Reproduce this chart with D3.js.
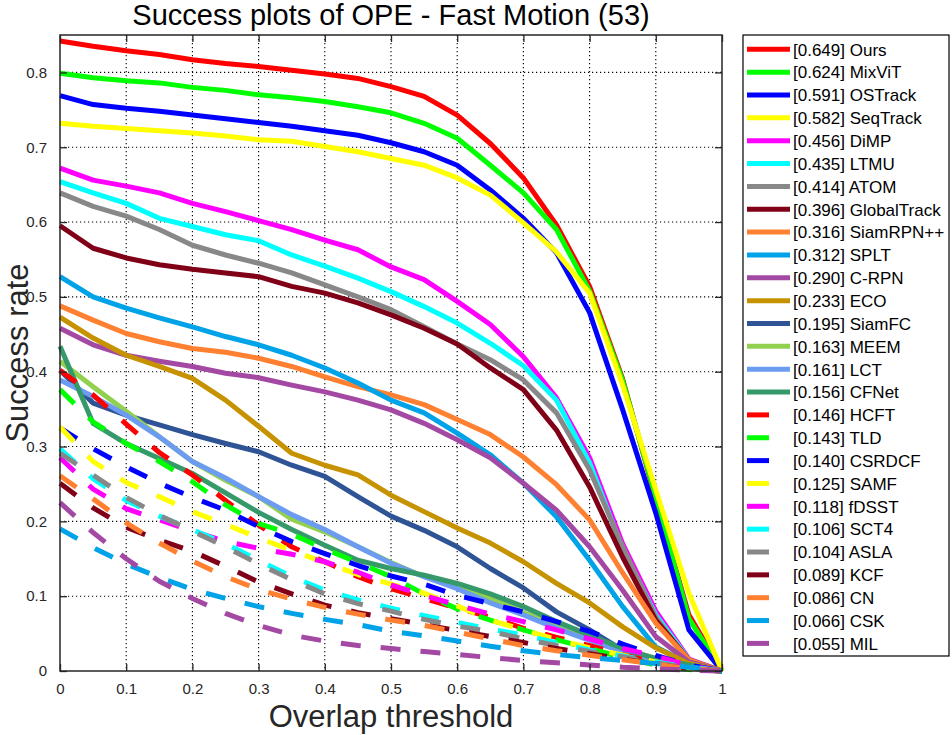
<!DOCTYPE html>
<html>
<head>
<meta charset="utf-8">
<script src="https://cdn.jsdelivr.net/npm/d3@7"></script>
<style>
  body { margin: 0; background: #fff; }
  text { font-family: "Liberation Sans", Arial, Helvetica, sans-serif; }
</style>
</head>
<body>
<div id="chart"></div>
<script>
// Overlap thresholds (x axis)
var thresholds = [0,0.05,0.1,0.15,0.2,0.25,0.3,0.35,0.4,0.45,0.5,0.55,0.6,0.65,0.7,0.75,0.8,0.85,0.9,0.95,1];
var xTicks = [0,0.1,0.2,0.3,0.4,0.5,0.6,0.7,0.8,0.9,1];
var yTicks = [0,0.1,0.2,0.3,0.4,0.5,0.6,0.7,0.8];

// Tracker names and AUC scores, in legend order
var trackers = ['Ours','MixViT','OSTrack','SeqTrack','DiMP','LTMU','ATOM','GlobalTrack','SiamRPN++','SPLT','C-RPN','ECO','SiamFC','MEEM','LCT','CFNet','HCFT','TLD','CSRDCF','SAMF','fDSST','SCT4','ASLA','KCF','CN','CSK','MIL'];
var aucs = [0.649,0.624,0.591,0.582,0.456,0.435,0.414,0.396,0.316,0.312,0.290,0.233,0.195,0.163,0.161,0.156,0.146,0.143,0.140,0.125,0.118,0.106,0.104,0.089,0.086,0.066,0.055];

// Success rate at each threshold
var ours        = [0.842,0.835,0.829,0.824,0.817,0.812,0.808,0.803,0.798,0.792,0.781,0.768,0.743,0.705,0.659,0.596,0.514,0.390,0.229,0.075,0];
var mixvit      = [0.799,0.793,0.789,0.786,0.780,0.776,0.770,0.766,0.761,0.754,0.746,0.732,0.712,0.676,0.639,0.590,0.508,0.388,0.232,0.070,0];
var ostrack     = [0.769,0.757,0.752,0.748,0.743,0.738,0.733,0.728,0.722,0.716,0.706,0.694,0.676,0.643,0.605,0.559,0.479,0.349,0.211,0.055,0];
var seqtrack    = [0.732,0.728,0.725,0.722,0.719,0.715,0.710,0.708,0.701,0.694,0.685,0.676,0.659,0.636,0.599,0.560,0.505,0.382,0.242,0.104,0];
var dimp        = [0.672,0.656,0.648,0.639,0.625,0.614,0.602,0.590,0.576,0.563,0.540,0.523,0.494,0.463,0.420,0.365,0.285,0.170,0.080,0.016,0];
var ltmu        = [0.654,0.639,0.625,0.605,0.594,0.583,0.575,0.556,0.541,0.525,0.507,0.487,0.465,0.438,0.408,0.362,0.278,0.163,0.075,0.015,0];
var atom        = [0.639,0.621,0.608,0.590,0.569,0.556,0.545,0.532,0.516,0.500,0.483,0.460,0.437,0.416,0.389,0.345,0.269,0.166,0.072,0.012,0];
var globaltrack = [0.595,0.565,0.552,0.543,0.537,0.532,0.527,0.514,0.505,0.492,0.476,0.458,0.437,0.405,0.376,0.322,0.246,0.152,0.068,0.015,0];
var siamrpnpp   = [0.488,0.469,0.451,0.440,0.431,0.426,0.418,0.407,0.393,0.380,0.369,0.356,0.336,0.316,0.286,0.249,0.202,0.131,0.064,0.015,0];
var splt        = [0.527,0.500,0.485,0.472,0.460,0.447,0.436,0.422,0.405,0.385,0.362,0.345,0.318,0.289,0.251,0.206,0.148,0.086,0.032,0.010,0];
var crpn        = [0.458,0.436,0.422,0.414,0.407,0.398,0.392,0.382,0.373,0.362,0.349,0.331,0.309,0.285,0.251,0.215,0.166,0.108,0.046,0.012,0];
var eco         = [0.473,0.445,0.422,0.407,0.391,0.362,0.327,0.291,0.275,0.262,0.235,0.213,0.191,0.171,0.146,0.117,0.091,0.059,0.031,0.010,0];
var siamfc      = [0.402,0.358,0.342,0.329,0.316,0.304,0.293,0.275,0.260,0.233,0.207,0.188,0.166,0.137,0.111,0.079,0.055,0.028,0.012,0.004,0];
var meem        = [0.414,0.380,0.347,0.313,0.280,0.255,0.233,0.203,0.186,0.166,0.145,0.126,0.113,0.097,0.078,0.060,0.042,0.026,0.014,0.006,0];
var lct         = [0.389,0.367,0.342,0.313,0.280,0.258,0.233,0.209,0.189,0.166,0.144,0.126,0.110,0.091,0.075,0.057,0.041,0.026,0.015,0.006,0];
var cfnet       = [0.434,0.331,0.304,0.284,0.264,0.238,0.212,0.189,0.168,0.148,0.137,0.128,0.117,0.103,0.086,0.066,0.048,0.030,0.017,0.008,0];
var hcft        = [0.402,0.369,0.330,0.292,0.262,0.228,0.195,0.166,0.146,0.126,0.110,0.097,0.084,0.072,0.057,0.045,0.034,0.022,0.011,0.003,0];
var tld         = [0.376,0.333,0.304,0.280,0.253,0.222,0.197,0.183,0.163,0.145,0.126,0.103,0.083,0.068,0.055,0.042,0.030,0.018,0.008,0.002,0];
var csrdcf      = [0.325,0.297,0.273,0.251,0.232,0.215,0.193,0.173,0.157,0.141,0.127,0.116,0.101,0.090,0.079,0.066,0.053,0.036,0.021,0.008,0];
var samf        = [0.326,0.280,0.252,0.233,0.213,0.196,0.178,0.161,0.145,0.129,0.116,0.104,0.087,0.068,0.055,0.042,0.031,0.021,0.012,0.004,0];
var fdsst       = [0.285,0.243,0.217,0.202,0.187,0.173,0.164,0.156,0.146,0.132,0.115,0.101,0.088,0.076,0.066,0.055,0.043,0.030,0.020,0.007,0];
var sct4        = [0.297,0.257,0.228,0.207,0.189,0.170,0.148,0.126,0.108,0.095,0.084,0.074,0.065,0.056,0.048,0.038,0.028,0.020,0.012,0.005,0];
var asla        = [0.291,0.262,0.232,0.208,0.187,0.166,0.143,0.122,0.103,0.090,0.080,0.069,0.060,0.053,0.043,0.034,0.026,0.019,0.011,0.004,0];
var kcf         = [0.251,0.218,0.192,0.175,0.160,0.140,0.119,0.103,0.088,0.078,0.070,0.062,0.054,0.046,0.038,0.030,0.023,0.016,0.009,0.003,0];
var cn          = [0.261,0.230,0.198,0.171,0.147,0.126,0.109,0.096,0.085,0.076,0.068,0.061,0.052,0.043,0.034,0.027,0.021,0.015,0.009,0.003,0];
var csk         = [0.190,0.165,0.143,0.125,0.109,0.097,0.086,0.077,0.069,0.062,0.053,0.047,0.040,0.033,0.027,0.022,0.018,0.014,0.010,0.005,0];
var mil         = [0.225,0.185,0.150,0.120,0.097,0.077,0.061,0.048,0.040,0.034,0.030,0.026,0.022,0.018,0.014,0.011,0.008,0.005,0.003,0.001,0];

var series = [ours,mixvit,ostrack,seqtrack,dimp,ltmu,atom,globaltrack,siamrpnpp,splt,crpn,eco,siamfc,meem,lct,cfnet,
              hcft,tld,csrdcf,samf,fdsst,sct4,asla,kcf,cn,csk,mil];

// Line colours (the first 16 are solid, the rest dashed)
var colors = ['#ff0000','#00ff00','#0000ff','#ffff00','#ff00ff','#00ffff','#888888','#800018','#ff8030','#00a2e8','#a349a4','#c69200','#2f5496','#92d050','#6c9cf2','#35996a',
              '#ff0000','#00ff00','#0000ff','#ffff00','#ff00ff','#00ffff','#888888','#800018','#ff8030','#00a2e8','#a349a4'];
var nSolid = 16;

var W = 952, H = 735;
var padL = 60, padR = 722, padT = 35, padB = 671;

var svg = d3.select('#chart').append('svg').attr('width', W).attr('height', H);

var x = d3.scaleLinear().domain([0,1]).range([padL,padR]);
var y = d3.scaleLinear().domain([0,0.85]).range([padB,padT]);

//Dotted grid
var grid = svg.append('g');
grid.selectAll('.gx').data(xTicks.slice(1,-1)).enter().append('line')
  .attr('x1', function(d){return x(d);}).attr('x2', function(d){return x(d);})
  .attr('y1', padT).attr('y2', padB)
  .attr('stroke','#000').attr('stroke-width',1.1).attr('stroke-dasharray','1.2,2.8');
grid.selectAll('.gy').data(yTicks.slice(1)).enter().append('line')
  .attr('y1', function(d){return y(d);}).attr('y2', function(d){return y(d);})
  .attr('x1', padL).attr('x2', padR)
  .attr('stroke','#000').attr('stroke-width',1.1).attr('stroke-dasharray','1.2,2.8');

//Curves, drawn in legend order so later ones sit on top
var line = d3.line().x(function(d,i){return x(thresholds[i]);}).y(function(d){return y(d);});
svg.append('g').selectAll('path').data(series).enter().append('path')
  .attr('d', line)
  .attr('fill','none')
  .attr('stroke', function(d,i){return colors[i];})
  .attr('stroke-width', 5)
  .attr('stroke-linejoin','round')
  .attr('stroke-dasharray', function(d,i){return i < nSolid ? null : '20,20';});

//Axes with inward ticks (box style)
var fmt = function(d){return String(+d.toFixed(1));};
var axB = svg.append('g').attr('transform','translate(0,'+padB+')')
  .call(d3.axisBottom(x).tickValues(xTicks).tickSize(-7).tickPadding(12).tickFormat(fmt));
var axL = svg.append('g').attr('transform','translate('+padL+',0)')
  .call(d3.axisLeft(y).tickValues(yTicks).tickSize(-7).tickPadding(13).tickFormat(fmt));
var axT = svg.append('g').attr('transform','translate(0,'+padT+')')
  .call(d3.axisTop(x).tickValues(xTicks).tickSize(-7).tickFormat(''));
var axR = svg.append('g').attr('transform','translate('+padR+',0)')
  .call(d3.axisRight(y).tickValues(yTicks).tickSize(-7).tickFormat(''));
[axB,axL,axT,axR].forEach(function(a){
  a.attr('font-size',15).attr('font-family','"Liberation Sans", Arial, sans-serif');
  a.select('.domain').remove();
  a.selectAll('line').attr('stroke','#262626').attr('stroke-width',1.3);
  a.selectAll('text').attr('fill','#262626');
});
svg.append('rect').attr('x',padL).attr('y',padT).attr('width',padR-padL).attr('height',padB-padT)
  .attr('fill','none').attr('stroke','#262626').attr('stroke-width',1.5);

//Titles
svg.append('text').attr('x',(padL+padR)/2).attr('y',25).attr('text-anchor','middle')
  .style('font-size','29px').attr('fill','#000').text('Success plots of OPE - Fast Motion (53)');
svg.append('text').attr('x',(padL+padR)/2).attr('y',727).attr('text-anchor','middle')
  .style('font-size','31px').attr('fill','#262626').text('Overlap threshold');
svg.append('text').attr('transform','translate(28,'+((padT+padB)/2)+') rotate(-90)').attr('text-anchor','middle')
  .style('font-size','31px').attr('fill','#262626').text('Success rate');

//Legend
var lg = svg.append('g');
lg.append('rect').attr('x',743).attr('y',35).attr('width',206).attr('height',621)
  .attr('fill','#fff').attr('stroke','#000').attr('stroke-width',1.2);
var rowH = 22.85;
var items = lg.selectAll('.item').data(trackers).enter().append('g')
  .attr('transform', function(d,i){return 'translate(0,'+(49.3 + i*rowH)+')';});
items.append('line')
  .attr('x1',747).attr('x2', function(d,i){return i < nSolid ? 790 : 769;})
  .attr('y1',0).attr('y2',0)
  .attr('stroke', function(d,i){return colors[i];}).attr('stroke-width',5);
items.append('text').attr('x',793).attr('y',6.3)
  .style('font-size','17px').attr('fill','#000')
  .text(function(d,i){return '[' + aucs[i].toFixed(3) + '] ' + d;});
</script>
</body>
</html>
